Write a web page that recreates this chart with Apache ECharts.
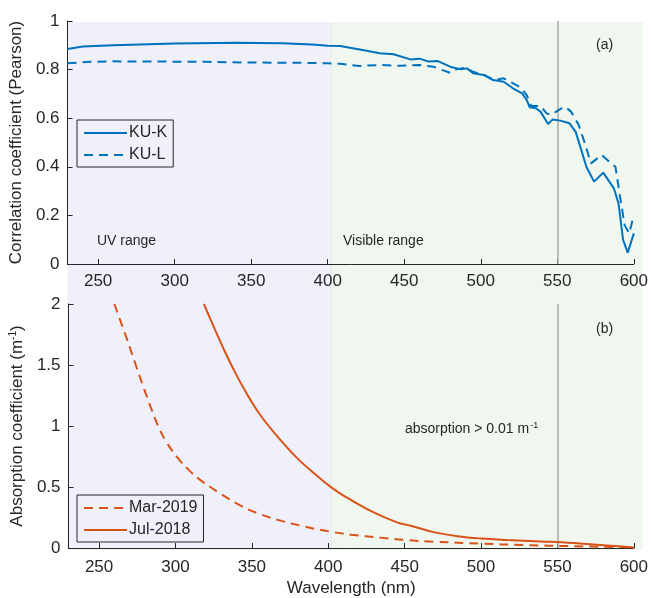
<!DOCTYPE html>
<html><head><meta charset="utf-8">
<script src="https://cdn.jsdelivr.net/npm/echarts@6/dist/echarts.min.js"></script>
<style>html,body{margin:0;padding:0;background:#fff}#c{width:651px;height:598px}</style>
</head><body><div id="c"></div>
<script>
// ---- data ----
const xTicks = [250, 300, 350, 400, 450, 500, 550, 600];
const uvRange = [230, 402];
const visRange = [402, 606];
const cutoffWl = 550;

const kuK = [[230,0.885],[240,0.895],[260,0.900],[300,0.907],[340,0.910],[370,0.908],[390,0.903],[400,0.898],[408,0.897],[421,0.883],[434,0.867],[443,0.863],[454,0.842],[460,0.845],[466,0.833],[472,0.835],[480,0.812],[487,0.801],[491,0.805],[495,0.785],[502,0.778],[508,0.757],[515,0.750],[521,0.723],[527,0.702],[530,0.675],[532,0.645],[536,0.641],[539,0.627],[544,0.576],[547,0.595],[552,0.590],[558,0.579],[562,0.544],[565,0.483],[569,0.400],[574,0.339],[580,0.376],[587,0.311],[590,0.250],[593,0.099],[596,0.047],[600,0.126]];
const kuL = [[230,0.826],[245,0.832],[260,0.834],[290,0.833],[320,0.832],[350,0.829],[380,0.828],[400,0.826],[408,0.824],[421,0.815],[434,0.819],[447,0.816],[460,0.819],[469,0.812],[475,0.798],[480,0.787],[484,0.801],[490,0.808],[495,0.791],[502,0.778],[509,0.757],[515,0.764],[519,0.750],[526,0.727],[530,0.695],[533,0.650],[539,0.650],[543,0.620],[546,0.613],[551,0.634],[555,0.647],[559,0.627],[564,0.572],[568,0.497],[572,0.414],[579,0.449],[584,0.421],[588,0.400],[591,0.277],[594,0.160],[597,0.126],[600,0.202]];
const mar2019 = [[260,2.0],[268,1.72],[274,1.50],[279,1.32],[284.5,1.13],[289,0.99],[294,0.87],[302,0.73],[309.5,0.63],[317,0.55],[324,0.49],[330,0.44],[343,0.345],[356,0.275],[370,0.22],[382,0.183],[391,0.158],[402,0.133],[415,0.109],[434,0.085],[450,0.066],[469,0.052],[500,0.036],[528,0.024],[560,0.015],[600,0.005]];
const jul2018 = [[318.6,2.0],[325,1.814],[331,1.646],[338,1.464],[346.5,1.268],[355,1.098],[366,0.925],[379,0.745],[392,0.598],[402,0.497],[410,0.43],[426,0.315],[445,0.21],[454,0.183],[469,0.13],[484.5,0.097],[500,0.078],[517,0.066],[539,0.054],[560,0.041],[582,0.021],[600,0.005]];

// ---- styles ----
const FONT = 'Liberation Sans, Arial, Helvetica, sans-serif';
const AX = '#262626';
const BLUE = '#0072BD';
const ORANGE = '#D95319';
const UV_BG = '#EFF0FA';
const VIS_BG = '#F0F7EF';
const DASH = [9, 6];
const FS = 17;

function xAxisCfg(gi, withName) {
  return {
    type: 'value', gridIndex: gi, min: 230, max: 600,
    axisLine: {show: true, lineStyle: {color: AX, width: 1}},
    axisTick: {show: true, inside: true, length: 5, customValues: xTicks, lineStyle: {color: AX}},
    axisLabel: {customValues: xTicks, color: AX, fontSize: FS, fontFamily: FONT, margin: withName ? 11 : 9},
    splitLine: {show: false},
    name: withName ? 'Wavelength (nm)' : '',
    nameLocation: 'middle', nameGap: 32,
    nameTextStyle: {color: AX, fontSize: FS, fontFamily: FONT}
  };
}
function yAxisCfg(gi, max, interval, name, rich) {
  return {
    type: 'value', gridIndex: gi, min: 0, max: max, interval: interval,
    axisLine: {show: true, lineStyle: {color: AX, width: 1}},
    axisTick: {show: true, inside: true, length: 5, lineStyle: {color: AX}},
    axisLabel: {color: AX, fontSize: FS, fontFamily: FONT, margin: 8},
    splitLine: {show: false},
    name: name, nameLocation: 'middle', nameGap: 35,
    nameTextStyle: {color: AX, fontSize: FS, fontFamily: FONT, rich: rich}
  };
}
function cutLine() {
  return {
    silent: true, symbol: ['none', 'none'], label: {show: false},
    lineStyle: {color: '#a8a8a8', width: 1.5, type: 'solid'},
    data: [{xAxis: cutoffWl}]
  };
}
const legendBase = {
  orient: 'vertical', left: 77,
  borderColor: AX, borderWidth: 1, padding: [5, 6, 4, 6], itemGap: 6,
  itemWidth: 43, itemHeight: 14,
  itemStyle: {opacity: 0},
  textStyle: {color: AX, fontSize: 16, fontFamily: FONT, padding: [0, 0, 0, -3]}
};

const chart = echarts.init(document.getElementById('c'), null, {renderer: 'canvas'});
const option = {
  animation: false,
  backgroundColor: '#fff',
  grid: [
    {left: 67, right: 17, top: 21, height: 243},
    {left: 67, right: 17, top: 304, height: 244}
  ],
  xAxis: [xAxisCfg(0, false), xAxisCfg(1, true)],
  yAxis: [
    yAxisCfg(0, 1, 0.2, 'Correlation coefficient (Pearson)'),
    yAxisCfg(1, 2, 0.5, '{a|Absorption coefficient (m}{s|-1}{a|)}', {
      a: {fontSize: FS, fontFamily: FONT, color: AX},
      s: {fontSize: 10, fontFamily: FONT, color: AX, padding: [0, 0, 9, 0]}
    })
  ],
  legend: [
    Object.assign({}, legendBase, {data: ['KU-K', 'KU-L'], top: 120}),
    Object.assign({}, legendBase, {data: ['Mar-2019', 'Jul-2018'], top: 495})
  ],
  series: [
    {name: 'KU-K', type: 'line', xAxisIndex: 0, yAxisIndex: 0, data: kuK, symbol: 'none',
     lineStyle: {color: BLUE, width: 2}, itemStyle: {color: BLUE}, z: 5, markLine: cutLine()},
    {name: 'KU-L', type: 'line', xAxisIndex: 0, yAxisIndex: 0, data: kuL, symbol: 'none',
     lineStyle: {color: BLUE, width: 2, type: DASH}, itemStyle: {color: BLUE}, z: 5},
    {name: 'Mar-2019', type: 'line', xAxisIndex: 1, yAxisIndex: 1, data: mar2019, symbol: 'none',
     smooth: 0.4,
     lineStyle: {color: ORANGE, width: 2, type: DASH}, itemStyle: {color: ORANGE}, z: 5},
    {name: 'Jul-2018', type: 'line', xAxisIndex: 1, yAxisIndex: 1, data: jul2018, symbol: 'none',
     smooth: 0.4,
     lineStyle: {color: ORANGE, width: 2}, itemStyle: {color: ORANGE}, z: 5, markLine: cutLine()}
  ]
};
chart.setOption(option);

// background bands spanning both panels, placed through the axes' own scales
const xa = chart.convertToPixel({xAxisIndex: 0}, uvRange[0]);
const xb = chart.convertToPixel({xAxisIndex: 0}, uvRange[1]);
const xc = chart.convertToPixel({xAxisIndex: 0}, visRange[1]);
const yTop = chart.convertToPixel({yAxisIndex: 0}, 1) + 1;
const yBot = chart.convertToPixel({yAxisIndex: 1}, 0) + 2;
chart.setOption({
  graphic: [
    {type: 'rect', z: -10, silent: true, shape: {x: xa, y: yTop, width: xb - xa, height: yBot - yTop}, style: {fill: UV_BG}},
    {type: 'rect', z: -10, silent: true, shape: {x: xb, y: yTop, width: xc - xb, height: yBot - yTop}, style: {fill: VIS_BG}},
    {type: 'rect', z: -9, silent: true, shape: {x: xb - 0.5, y: yTop, width: 1.5, height: yBot - yTop}, style: {fill: '#E3EEEE'}},
    {type: 'text', left: 97, top: 234, z: 10, style: {text: 'UV range', fill: AX, font: '14px ' + FONT}},
    {type: 'text', left: 343, top: 234, z: 10, style: {text: 'Visible range', fill: AX, font: '14px ' + FONT}},
    {type: 'text', left: 596, top: 38, z: 10, style: {text: '(a)', fill: AX, font: '14px ' + FONT}},
    {type: 'text', left: 596, top: 322, z: 10, style: {text: '(b)', fill: AX, font: '14px ' + FONT}},
    {type: 'text', left: 405, top: 421, z: 10, style: {
      text: '{a|absorption > 0.01 m}{s|-1}', fill: AX,
      rich: {
        a: {fontSize: 14, fontFamily: FONT, fill: AX, color: AX},
        s: {fontSize: 9, fontFamily: FONT, fill: AX, color: AX, padding: [0, 0, 8, 1]}
      }
    }}
  ]
});
</script>
</body></html>
